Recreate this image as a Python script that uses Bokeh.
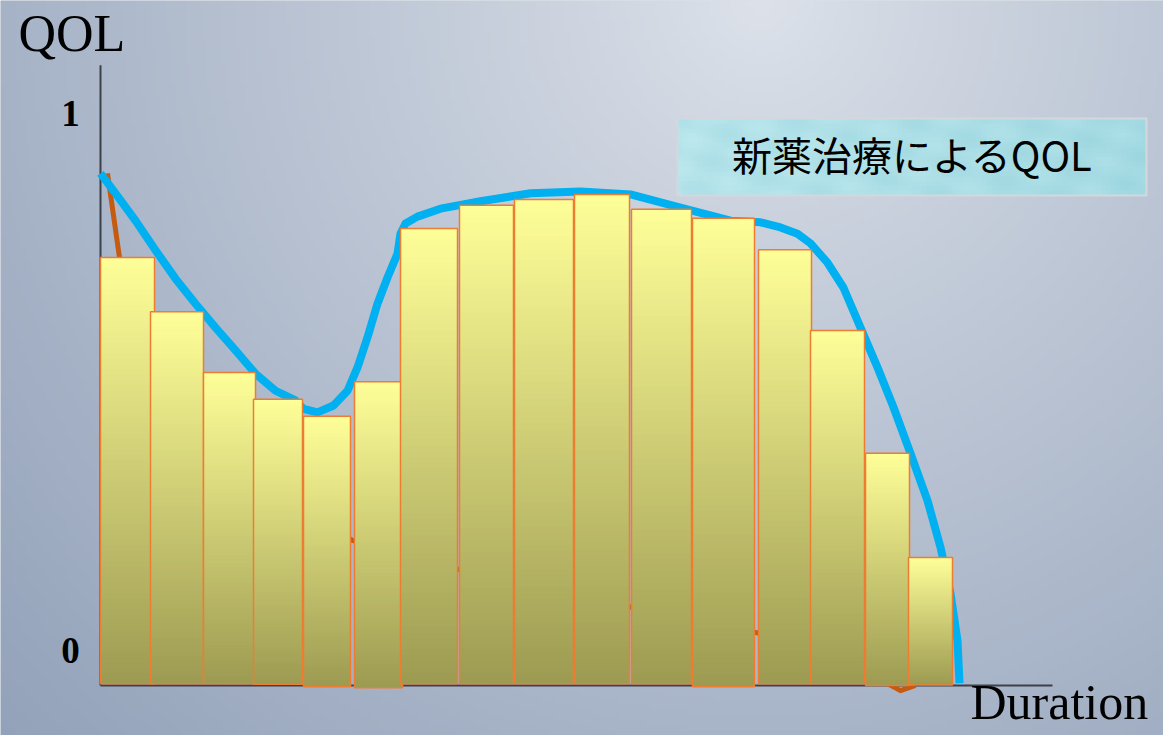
import numpy as np
from bokeh.plotting import figure
from bokeh.models import Label, Range1d
from bokeh.embed import file_html
from bokeh.resources import INLINE

# ---------------- data ----------------
bar_left = [0.0, 5.0, 10.3, 15.3, 20.3, 25.4, 30.0, 35.9, 41.4, 47.4, 53.1, 59.2, 65.8, 71.0, 76.5, 80.8]
bar_right = [5.4, 10.3, 15.5, 20.2, 25.0, 30.2, 35.7, 41.3, 47.3, 52.9, 59.1, 65.4, 71.1, 76.4, 80.9, 85.2]
bar_qol = [0.752, 0.657, 0.550, 0.503, 0.473, 0.534, 0.803, 0.844, 0.854, 0.863, 0.837, 0.821, 0.766, 0.624, 0.408, 0.225]
bar_base = [0.003, 0.003, 0.003, 0.002, -0.002, -0.004, 0.003, 0.003, 0.003, 0.003, 0.003, -0.002, 0.003, 0.003, 0.0, 0.001]

new_drug_x = [0.0, 1.5, 3.5, 5.5, 7.5, 9.5, 11.5, 13.5, 15.5, 17.5, 19.5, 20.3, 21.7, 23.3, 24.7, 25.7, 26.7,
              27.7, 28.7, 29.7, 30.0, 30.5, 31.7, 34.0, 38.0, 43.0, 48.0, 53.0, 58.0, 63.0, 66.0, 68.0, 69.7,
              71.0, 72.7, 74.3, 76.0, 77.7, 79.3, 81.0, 82.7, 84.0, 85.0, 85.7, 85.9]
new_drug_qol = [0.900, 0.865, 0.817, 0.765, 0.715, 0.671, 0.629, 0.589, 0.548, 0.518, 0.501, 0.486, 0.480,
                0.492, 0.518, 0.559, 0.612, 0.671, 0.717, 0.759, 0.794, 0.812, 0.824, 0.838, 0.851, 0.865,
                0.868, 0.863, 0.840, 0.817, 0.814, 0.805, 0.794, 0.777, 0.743, 0.699, 0.629, 0.559, 0.489,
                0.408, 0.325, 0.243, 0.162, 0.079, 0.004]

old_x = [0.7, 1.9, 6.0, 12.0, 18.0, 25.2, 35.8, 45.0, 55.0, 65.6, 73.0, 78.0, 80.0, 81.5]
old_qol = [0.90, 0.752, 0.60, 0.45, 0.33, 0.255, 0.204, 0.17, 0.13, 0.093, 0.05, 0.01, -0.009, 0.0]

y_tick_labels = ["0", "1"]
y_tick_values = [0, 1]
x_axis_end = 95.2
y_axis_end = 1.09
title_text = "新薬治療によるQOL"

# ---------------- layout helpers ----------------
W, H = 1163, 735
def X(px):
    return (px - 100) / 10.0
def Y(py):
    return (685 - py) / 569.0

p = figure(width=W, height=H, output_backend="svg", toolbar_location=None,
           x_range=Range1d(X(0), X(W)), y_range=Range1d(Y(H), Y(0)),
           x_axis_type=None, y_axis_type=None, min_border=0)
p.outline_line_color = None
p.background_fill_color = "#B8C2D0"
p.border_fill_color = "#B8C2D0"

# background radial gradient
nh, nw = 147, 233
img = np.empty((nh, nw), dtype=np.uint32)
view = img.view(dtype=np.uint8).reshape((nh, nw, 4))
cols = (np.arange(nw) + 0.5) * W / nw
rows = H - (np.arange(nh) + 0.5) * H / nh
CX, CY = np.meshgrid(cols, rows)
d = np.sqrt((CX - 760) ** 2 + (CY - 0) ** 2)
t = np.clip(d / 1060.0, 0, 1) ** 0.9
light = np.array([221, 226, 234])
dark = np.array([147, 162, 186])
for c in range(3):
    view[:, :, c] = (light[c] + (dark[c] - light[c]) * t).astype(np.uint8)
view[:, :, 3] = 255
p.image_rgba(image=[img], x=X(0), y=Y(H), dw=X(W) - X(0), dh=Y(0) - Y(H))

# axes
p.line([0, 0], [0, y_axis_end], line_color="#3c414a", line_width=2)
p.line([0, x_axis_end], [0, 0], line_color="#3c414a", line_width=2)

# curves
p.line(old_x, old_qol, line_color="#C55A11", line_width=5, line_join="round")
p.line(new_drug_x, new_drug_qol, line_color="#00B0F0", line_width=8, line_join="round", line_cap="butt")

# bars with vertical gradient
top_c = np.array([255, 255, 153])
bot_c = np.array([157, 155, 82])
N = 80
for L, R, B, T in zip(bar_left, bar_right, bar_base, bar_qol):
    h = T - B
    tops, bottoms, colors = [], [], []
    for k in range(N):
        f = (k + 0.5) / N
        c = (top_c + (bot_c - top_c) * f).astype(int)
        tops.append(T - k * h / N)
        bottoms.append(B)
        colors.append("#%02x%02x%02x" % tuple(c))
    p.quad(left=[L] * N, right=[R] * N, top=tops, bottom=bottoms, fill_color=colors, line_color=None)
    p.quad(left=[L], right=[R], top=[T], bottom=[B], fill_color=None, line_color="#ED7D31", line_width=1.5)

# title box
bw_n, bh_n = 94, 16
timg = np.empty((bh_n, bw_n), dtype=np.uint32)
tv = timg.view(dtype=np.uint8).reshape((bh_n, bw_n, 4))
gx = np.linspace(0, 1, bw_n)
gy = np.linspace(0, 1, bh_n)
GX, GY = np.meshgrid(gx, gy)
ripple = 0.5 + 0.5 * np.sin(GX * 37.0 + GY * 5.0) * np.cos(GY * 9.0 - GX * 11.0)
base_l = np.array([188, 232, 238])
base_d = np.array([150, 210, 220])
mix = 0.35 * ripple + 0.45 * GX
for c in range(3):
    tv[:, :, c] = (base_l[c] + (base_d[c] - base_l[c]) * np.clip(mix, 0, 1)).astype(np.uint8)
tv[:, :, 3] = 255
p.image_rgba(image=[timg], x=X(677), y=Y(195), dw=X(1146) - X(677), dh=Y(118) - Y(195))
p.quad(left=[X(677)], right=[X(1146)], top=[Y(118)], bottom=[Y(195)], fill_color=None,
       line_color="#D2D8DE", line_width=2)
p.add_layout(Label(x=X(912), y=Y(158), y_offset=5, text=title_text, text_font="Noto Sans CJK JP",
                   text_font_size="40px", text_align="center", text_baseline="middle", text_color="black"))

# texts
SHIFT = 15
p.add_layout(Label(x=X(18), y=Y(48), y_offset=SHIFT, text="QOL", text_font="Liberation Serif",
                   text_font_size="52px", text_align="left", text_baseline="alphabetic", text_color="black"))
p.add_layout(Label(x=X(970), y=Y(716), y_offset=SHIFT, text="Duration", text_font="Liberation Serif",
                   text_font_size="50px", text_align="left", text_baseline="alphabetic", text_color="black"))
for v, lab in zip(y_tick_values, y_tick_labels):
    p.add_layout(Label(x=X(70), y=v, y_offset=(20 if v == 0 else -12) + SHIFT, text=lab,
                       text_font="Liberation Serif", text_font_size="37px", text_font_style="bold",
                       text_align="center", text_baseline="alphabetic", text_color="black"))

open("out.html", "w").write(file_html(p, INLINE))
